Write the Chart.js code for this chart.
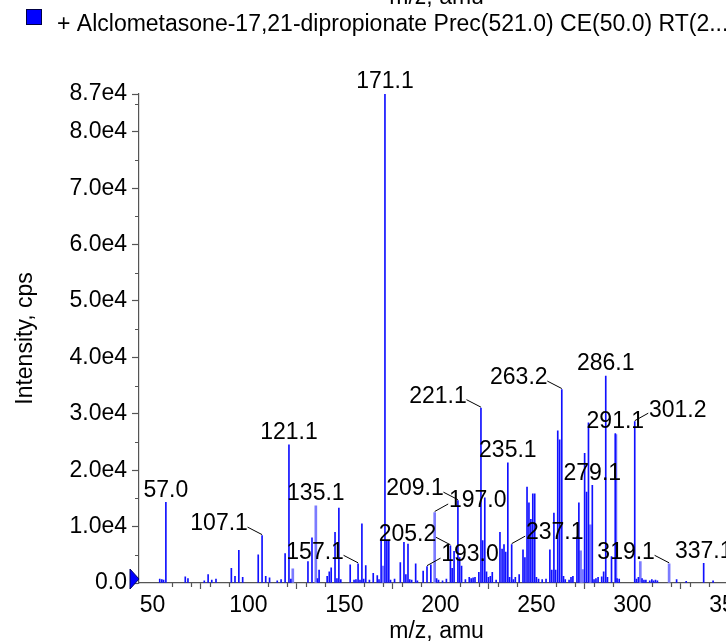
<!DOCTYPE html>
<html><head><meta charset="utf-8">
<script src="https://cdn.jsdelivr.net/npm/chart.js@4.4.1/dist/chart.umd.min.js"></script>
<style>
html,body{margin:0;padding:0;overflow:hidden;background:#fff;width:726px;height:642px}
#wrap{position:absolute;left:0;top:0;width:760px;height:642px}
</style>
</head><body><div id="wrap"><canvas id="c" width="760" height="642" style="width:760px;height:642px"></canvas></div>
<script>
// ---------- texts ----------
const legendText = '+ Alclometasone-17,21-dipropionate Prec(521.0) CE(50.0) RT(2...';
const xTitle = 'm/z, amu';
const yTitle = 'Intensity, cps';

// ---------- ticks ----------
const xTicks = [50, 100, 150, 200, 250, 300, 350];
const xMinorTicks = [60, 70, 80, 90, 110, 120, 130, 140, 160, 170, 180, 190, 210, 220, 230, 240, 260, 270, 280, 290, 310, 320, 330, 340];
const yTicks = [0, 10000, 20000, 30000, 40000, 50000, 60000, 70000, 80000, 86700];
const yTickLabels = ['0.0', '1.0e4', '2.0e4', '3.0e4', '4.0e4', '5.0e4', '6.0e4', '7.0e4', '8.0e4', '8.7e4'];
const yMinorTicks = [5000, 15000, 25000, 35000, 45000, 55000, 65000, 75000, 85000];

// ---------- series: dark peaks ----------
const mzMain = [53.8, 54.9, 55.8, 57.0, 67.1, 68.5, 77.0, 79.0, 80.9, 83.1, 91.1, 93.0, 95.0, 97.0,
  105.1, 107.1, 109.0, 111.0, 115.0, 117.0, 119.1, 121.1, 122.1, 131.0, 133.1, 136.0, 136.8,
  141.0, 142.1, 143.1, 145.1, 146.1, 147.1, 148.1, 153.0, 155.0, 156.0, 157.1, 158.1, 159.1,
  160.0, 161.1, 163.0, 165.0, 167.1, 168.0, 169.1, 171.1, 172.1, 173.1, 174.0, 176.1, 179.1,
  181.0, 182.0, 183.1, 184.0, 185.0, 187.1, 188.0, 191.0, 193.0, 195.0, 198.0, 199.0, 201.1,
  203.1, 205.2, 206.1, 207.1, 209.1, 210.0, 211.0, 213.0, 215.0, 216.0, 217.0, 218.0, 220.0,
  221.1, 222.0, 223.1, 224.0, 225.0, 226.0, 227.0, 229.0, 231.0, 232.1, 233.1, 234.0, 235.1,
  236.0, 237.1, 238.0, 239.0, 241.0, 243.0, 244.0, 245.1, 246.1, 247.1, 248.1, 249.1, 250.0,
  251.1, 253.0, 255.0, 257.0, 258.0, 259.1, 260.0, 261.1, 262.1, 263.2, 264.1, 265.0, 267.0,
  268.0, 269.0, 271.1, 272.1, 275.1, 276.1, 277.1, 279.1, 280.0, 281.0, 282.1, 284.0, 285.0,
  286.1, 287.0, 289.1, 291.1, 292.0, 293.1, 301.2, 302.1, 303.1, 305.0, 306.0, 307.0, 309.0,
  310.1, 311.0, 312.0, 313.0, 323.0, 328.0, 337.1, 342.0];
const intMain = [700, 600, 500, 14300, 1100, 800, 400, 1500, 500, 700, 2600, 1200, 5800, 1000,
  5000, 8400, 1200, 900, 400, 600, 5200, 24500, 700, 3800, 8000, 800, 2300,
  1200, 2000, 2700, 9000, 800, 13300, 600, 3200, 500, 600, 3400, 500, 10500,
  700, 3100, 500, 1700, 1300, 600, 7400, 86700, 7500, 7500, 500, 700, 3600,
  7200, 1500, 6900, 600, 500, 3400, 400, 2100, 2900, 3200, 800, 500, 400,
  700, 6600, 2600, 5600, 14600, 4500, 3000, 600, 1000, 800, 900, 1000, 1900,
  31000, 7500, 15100, 2000, 1000, 1200, 1900, 500, 9000, 6000, 6800, 5500, 21300,
  1000, 6800, 600, 1000, 1500, 5900, 4500, 17000, 14200, 11300, 15800, 15800, 1000,
  700, 600, 700, 5900, 2300, 12400, 2300, 27000, 25400, 34300, 1200, 600, 500,
  1000, 1200, 8200, 14200, 23000, 16100, 28400, 17300, 600, 800, 1000, 1100, 2000,
  36700, 1000, 4700, 26500, 800, 700, 28600, 700, 1000, 800, 500, 500, 400,
  600, 400, 500, 400, 600, 300, 3500, 400];

// ---------- series: light peaks ----------
const mzPale = [123.1, 135.1, 170.1, 197.0, 273.0, 274.0, 278.1, 291.4, 304.1, 319.1];
const intPale = [2500, 13700, 3000, 12500, 5700, 2400, 10300, 26300, 3800, 3400];

// ---------- peak annotations ----------
const labelMz = [57.0, 107.1, 121.1, 135.1, 157.1, 171.1, 193.0, 197.0, 205.2, 209.1, 221.1,
  235.1, 237.1, 263.2, 279.1, 286.1, 291.1, 301.2, 319.1, 337.1];
const labelSide = ['above', 'left', 'above', 'above', 'left', 'above', 'right', 'right', 'left', 'left', 'left',
  'above', 'right', 'left', 'above', 'above', 'above', 'right', 'left', 'above'];

// ---------- style ----------
const FONT = '"Liberation Sans", Arial, sans-serif';
const FS = 23;
const AXIS = '#555555';
const sideStyle = {
  above: {tx: 0, ty: -12, leader: false},
  left: {tx: -43, ty: -11.5, leader: true, lx: -14.5, ly: -8.5},
  right: {tx: 43, ty: -11.5, leader: true, lx: 13.5, ly: -8.5}
};

function peakIntensity(m) {
  for (let i = 0; i < mzMain.length; i++) if (Math.abs(mzMain[i] - m) < 0.05) return intMain[i];
  for (let i = 0; i < mzPale.length; i++) if (Math.abs(mzPale[i] - m) < 0.05) return intPale[i];
  return 0;
}

const decor = {
  id: 'decor',
  afterDraw(chart) {
    const ctx = chart.ctx, xs = chart.scales.x, ys = chart.scales.y, ca = chart.chartArea;
    ctx.save();
    // minor ticks
    ctx.strokeStyle = AXIS; ctx.lineWidth = 1.2;
    ctx.beginPath();
    xMinorTicks.forEach(v => { const p = Math.round(xs.getPixelForValue(v)) + 0.5; ctx.moveTo(p, ca.bottom); ctx.lineTo(p, ca.bottom + 4); });
    yMinorTicks.forEach(v => { const p = Math.round(ys.getPixelForValue(v)) + 0.5; ctx.moveTo(ca.left - 4, p); ctx.lineTo(ca.left, p); });
    ctx.stroke();
    // zero marker triangle
    const zy = ys.getPixelForValue(0);
    ctx.fillStyle = '#0000ff'; ctx.strokeStyle = '#000066'; ctx.lineWidth = 1;
    ctx.beginPath();
    ctx.moveTo(ca.left - 9, zy - 14); ctx.lineTo(ca.left - 9, zy + 6); ctx.lineTo(ca.left, zy - 4); ctx.closePath();
    ctx.fill(); ctx.stroke();
    // annotations
    ctx.font = FS + 'px ' + FONT;
    ctx.fillStyle = '#000'; ctx.textAlign = 'center'; ctx.textBaseline = 'middle';
    ctx.strokeStyle = '#000'; ctx.lineWidth = 1;
    labelMz.forEach((m, i) => {
      const st = sideStyle[labelSide[i]];
      const px = xs.getPixelForValue(m), py = ys.getPixelForValue(peakIntensity(m));
      ctx.fillText(m.toFixed(1), px + st.tx, py + st.ty);
      if (st.leader) {
        ctx.beginPath(); ctx.moveTo(px + st.lx, py + st.ly); ctx.lineTo(px, py - 1); ctx.stroke();
      }
    });
    // legend
    ctx.fillStyle = '#0000ff'; ctx.strokeStyle = '#000044'; ctx.lineWidth = 1;
    ctx.fillRect(26.5, 9.5, 15, 15); ctx.strokeRect(26.5, 9.5, 15, 15);
    ctx.fillStyle = '#000'; ctx.textAlign = 'left'; ctx.textBaseline = 'alphabetic';
    ctx.fillText(legendText, 57, 30.5);
    // cut-off axis title of the panel above
    ctx.textAlign = 'center';
    ctx.fillText(xTitle, (ca.left + ca.right) / 2, 4);
    ctx.restore();
  }
};

const mainPts = mzMain.map((m, i) => ({x: m, y: intMain[i]}));
const palePts = mzPale.map((m, i) => ({x: m, y: intPale[i]}));

new Chart(document.getElementById('c'), {
  type: 'bar',
  data: {datasets: [
    {label: 'light', data: palePts, backgroundColor: '#7b7bff', barThickness: 2, grouped: false, order: 2},
    {label: 'main', data: mainPts, backgroundColor: '#1010ff', barThickness: 1, grouped: false, order: 1}
  ]},
  options: {
    responsive: false, animation: false, devicePixelRatio: 1,
    layout: {padding: {left: 0, top: 94, right: 25.8, bottom: 0}},
    plugins: {legend: {display: false}, tooltip: {enabled: false}},
    scales: {
      x: {
        type: 'linear', min: 43, max: 353, offset: false,
        afterBuildTicks: s => { s.ticks = xTicks.map(v => ({value: v})); },
        afterFit: s => { s.height = 59; },
        ticks: {autoSkip: false, maxRotation: 0, padding: 2.5, color: '#000', font: {family: FONT, size: FS}, callback: v => String(v)},
        grid: {display: true, drawOnChartArea: false, drawTicks: true, tickLength: 6, tickColor: AXIS, tickWidth: 1.2},
        border: {display: true, color: AXIS, width: 1.2},
        title: {display: true, text: xTitle, color: '#000', font: {family: FONT, size: FS, lineHeight: 0.87}, padding: 0}
      },
      y: {
        type: 'linear', min: 0, max: 86700,
        afterBuildTicks: s => { s.ticks = yTicks.map(v => ({value: v})); },
        afterFit: s => { s.width = 139; },
        ticks: {autoSkip: false, padding: 5, color: '#000', font: {family: FONT, size: FS}, callback: (v, i) => yTickLabels[i]},
        grid: {display: true, drawOnChartArea: false, drawTicks: true, tickLength: 7, tickColor: AXIS, tickWidth: 1.2},
        border: {display: true, color: AXIS, width: 1.2},
        title: {display: true, text: yTitle, color: '#000', font: {family: FONT, size: FS, lineHeight: 1.2}, padding: {top: 12, bottom: 0}}
      }
    }
  },
  plugins: [decor]
});
</script></body></html>
